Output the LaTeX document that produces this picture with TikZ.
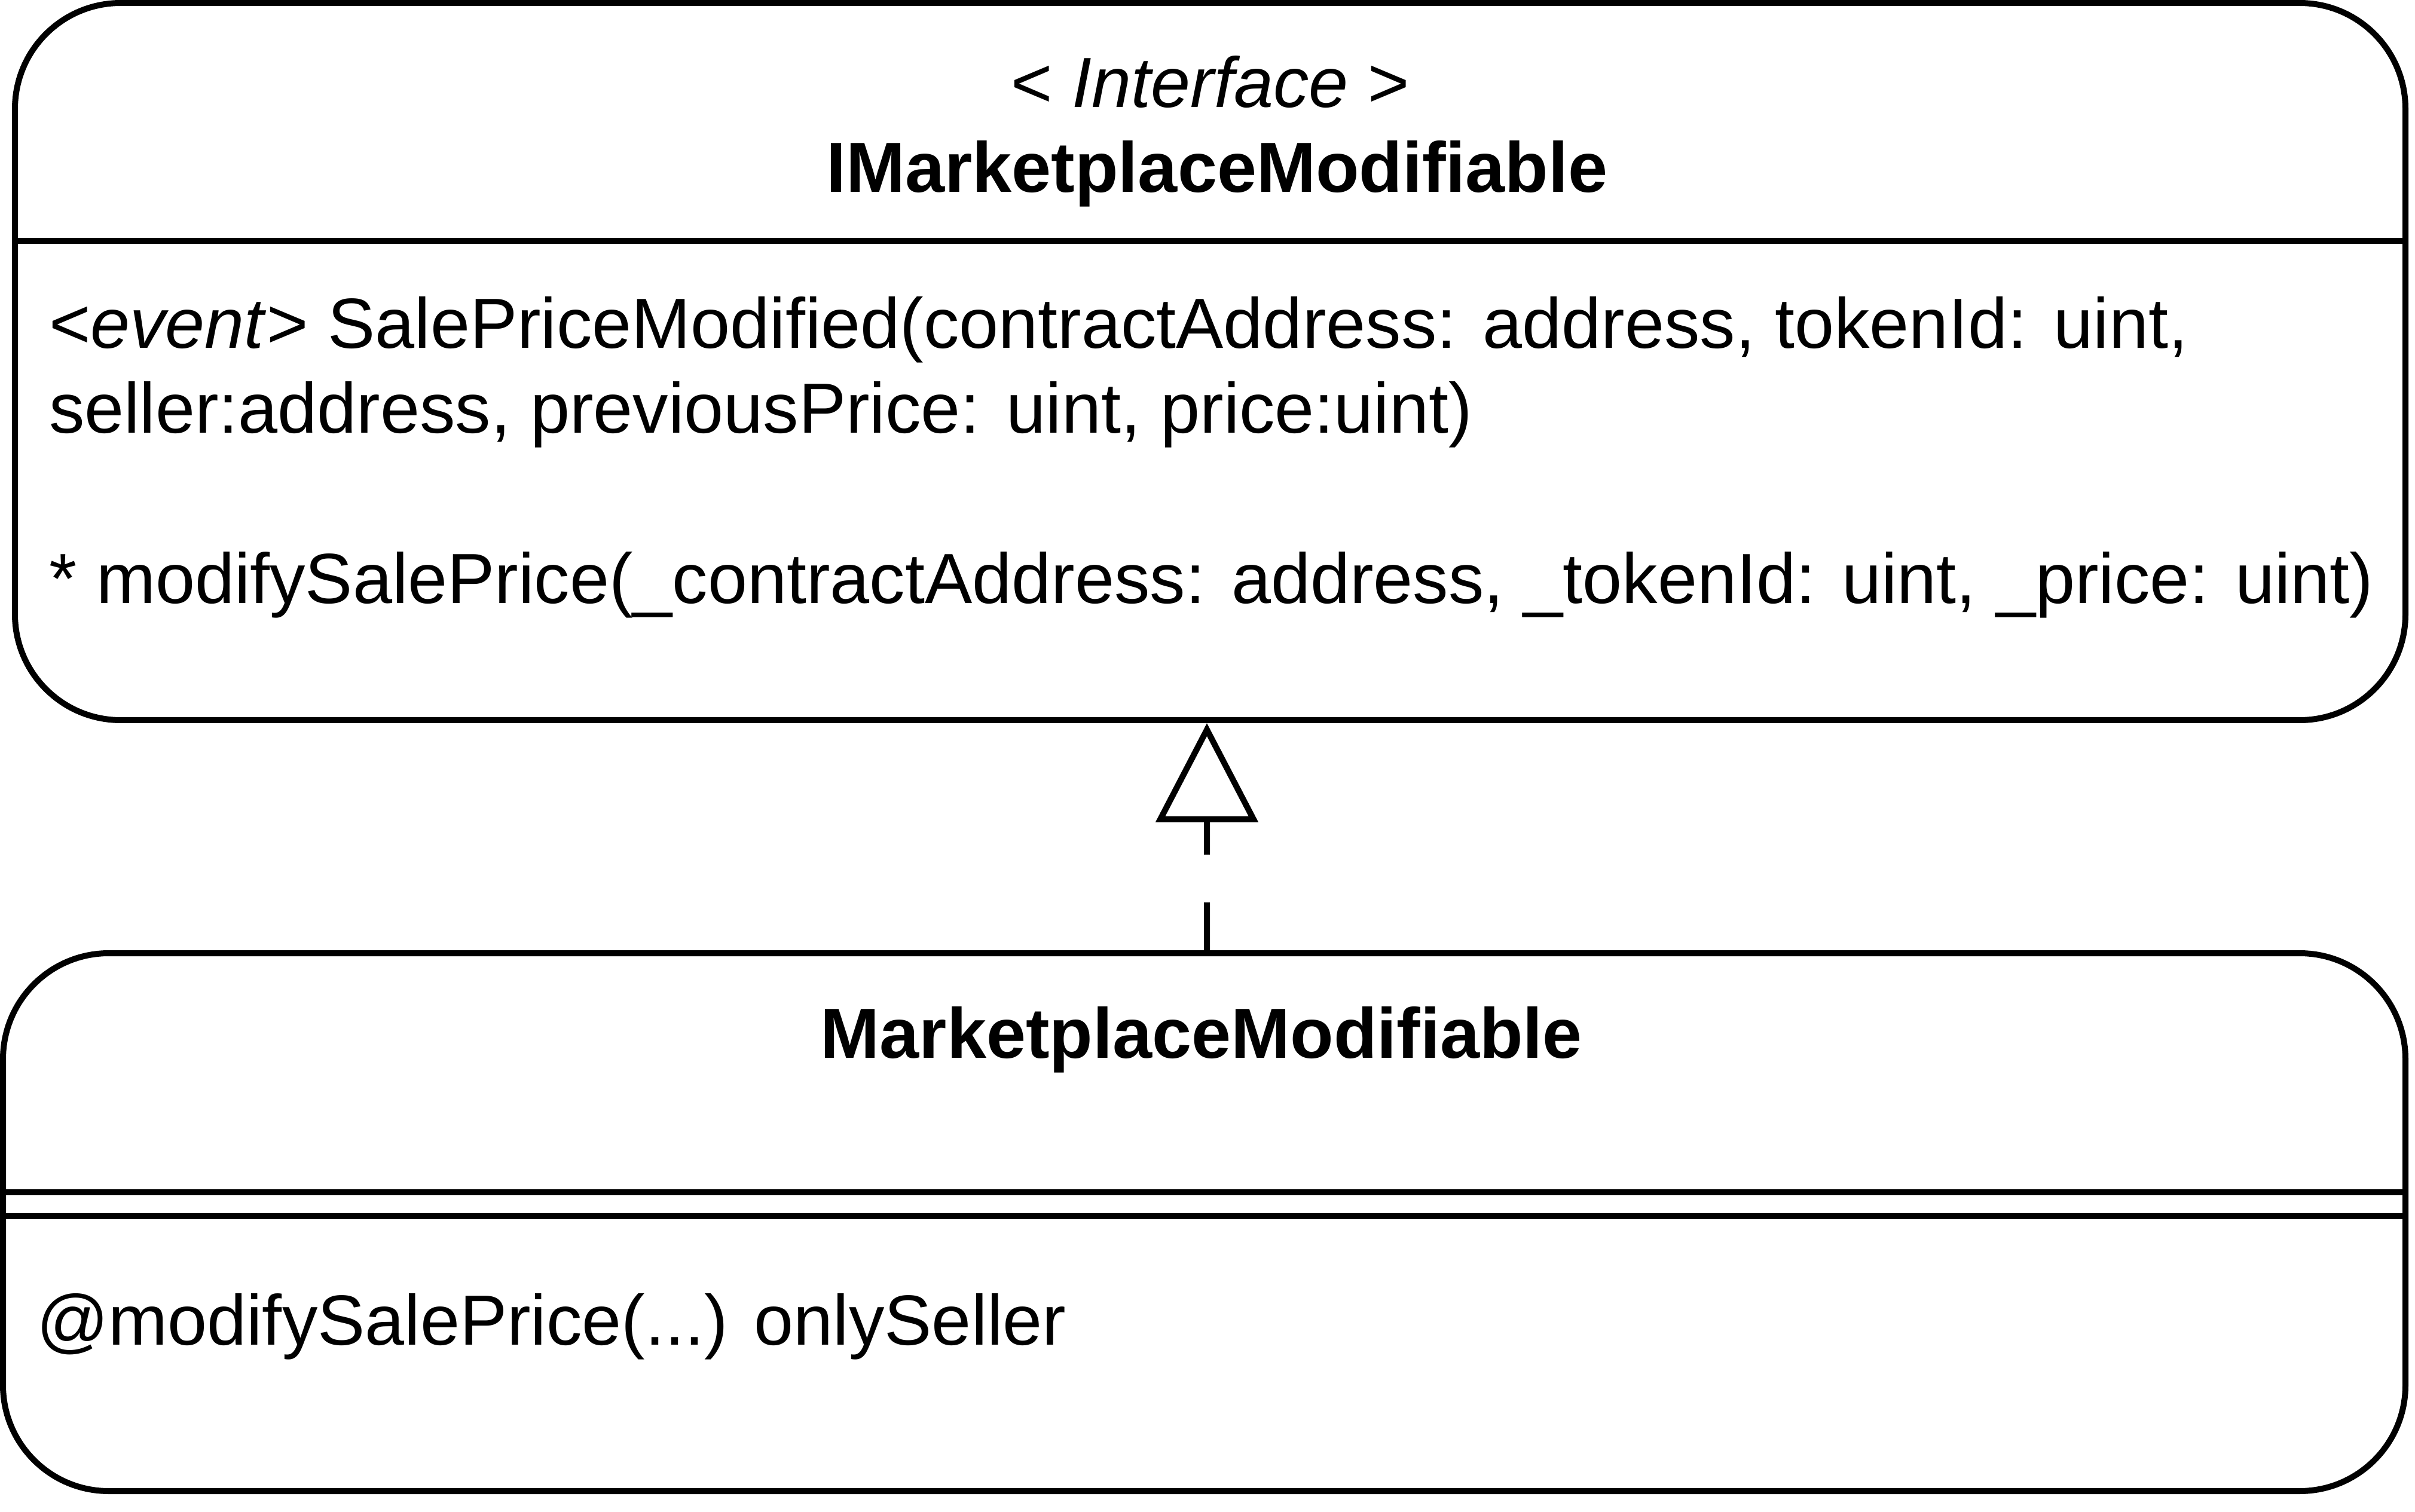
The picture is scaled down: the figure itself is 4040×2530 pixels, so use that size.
\documentclass[tikz,border=0pt]{standalone}
\usepackage{fontspec}
\setmainfont{Liberation Sans}
\usetikzlibrary{arrows.meta}

\begin{document}
\begin{tikzpicture}[x=0.1mm, y=-0.1mm, line width=1mm,
    classbox/.style = {draw, rounded corners=17.7mm, inner sep=0pt},
    txt/.style = {inner sep=0pt, font=\fontsize{33.8}{40.4}\selectfont},
    realize/.style = {-{Triangle[open, length=16.6mm, width=17mm]}, dash pattern=on 8mm off 8mm}]
    \useasboundingbox (0,0) rectangle (4040,2530);

    % Nodes
    \node[classbox, minimum width=399.9mm, minimum height=120mm] (iface) at (2024.5,605) {};
    \node[classbox, minimum width=401.9mm, minimum height=90mm] (impl) at (2014.5,2045) {};

    \node[txt, anchor=base] (stereo) at (2024.5,180) {< \textit{Interface} >};
    \node[txt, anchor=base, font=\fontsize{33.8}{40.4}\selectfont\bfseries] (ifacename) at (2036,322) {IMarketplaceModifiable};
    \node[txt, anchor=base west] (event1) at (77,583) {<\textit{event}> SalePriceModified(contractAddress: address, tokenId: uint,};
    \node[txt, anchor=base west] (event2) at (77,725) {seller:address, previousPrice: uint, price:uint)};
    \node[txt, anchor=base west] (method) at (77,1009) {* modifySalePrice(\_contractAddress: address, \_tokenId: uint, \_price: uint)};

    \node[txt, anchor=base, font=\fontsize{33.8}{40.4}\selectfont\bfseries] (implname) at (2010,1770) {MarketplaceModifiable};
    \node[txt, anchor=base west] (modifier) at (56,2250) {@modifySalePrice(...) onlySeller};

    % Compartments
    \draw (iface.west |- 0,403) -- (iface.east |- 0,403);
    \draw (impl.west |- 0,1995) -- (impl.east |- 0,1995);
    \draw (impl.west |- 0,2035) -- (impl.east |- 0,2035);

    % Edges
    \draw[realize] ([xshift=0.45mm]impl.north) -- ([xshift=-0.55mm]iface.south);
\end{tikzpicture}
\end{document}
